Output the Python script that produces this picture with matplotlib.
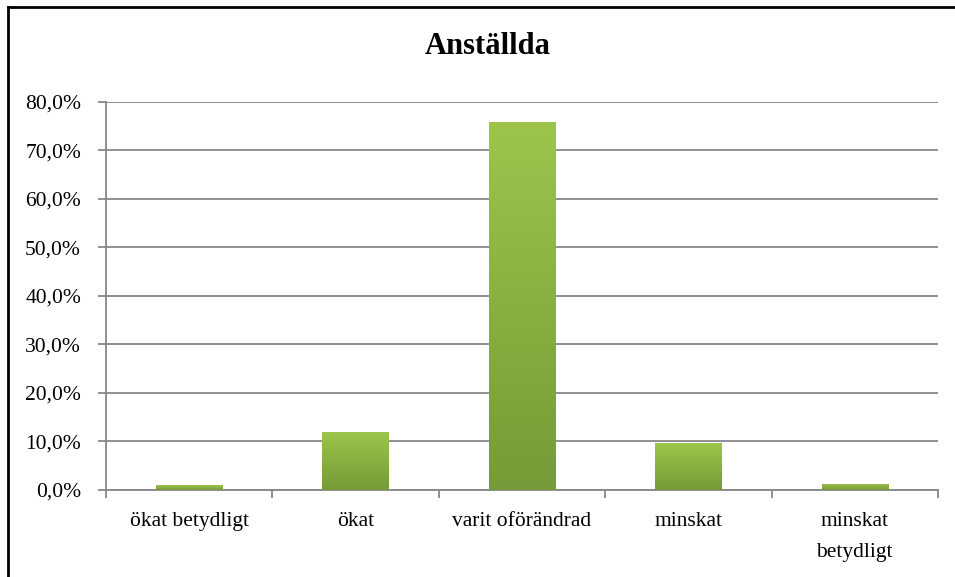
import matplotlib
matplotlib.use("Agg")
import matplotlib.pyplot as plt
import numpy as np
from matplotlib.colors import LinearSegmentedColormap
from matplotlib.ticker import FuncFormatter, MultipleLocator

categories = ["ökat betydligt", "ökat", "varit oförändrad", "minskat", "minskat\nbetydligt"]
values = [1.0, 12.0, 75.7, 9.6, 1.3]
title = "Anställda"

plt.rcParams['font.family'] = ['Liberation Serif', 'DejaVu Serif']

fig = plt.figure(figsize=(9.55, 5.77), dpi=100)
ax = fig.add_axes([106/955, 87/577, (938-106)/955, (490-101.5)/577])

x = np.arange(len(categories))
bars = ax.bar(x, values, width=0.4, color='none', edgecolor='none', zorder=3)

cmap = LinearSegmentedColormap.from_list("g", ["#769A37", "#9DC54B"])
grad = np.linspace(0, 1, 256).reshape(-1, 1)
for b in bars:
    x0, y0 = b.get_x(), b.get_y()
    w, h = b.get_width(), b.get_height()
    im = ax.imshow(grad, cmap=cmap, origin='lower', aspect='auto',
                   extent=[x0, x0 + w, y0, y0 + h], zorder=3)
    im.set_clip_path(b)

ax.set_xlim(-0.5, len(categories) - 0.5)
ax.set_ylim(0, 80)
ax.yaxis.set_major_locator(MultipleLocator(10))
ax.yaxis.set_major_formatter(FuncFormatter(lambda v, p: f"{v:.1f}%".replace('.', ',')))
ax.grid(axis='y', color='#878787', linewidth=1.3, zorder=0)
ax.set_axisbelow(True)

ax.set_xticks(x)
ax.set_xticklabels(categories, fontsize=15.5, linespacing=1.85)
ax.set_xticks(np.arange(len(categories) + 1) - 0.5, minor=True)
ax.tick_params(axis='x', which='major', length=0, pad=16)
ax.tick_params(axis='x', which='minor', length=6, width=1.3, color='#878787', direction='out')
ax.tick_params(axis='y', length=6, width=1.3, color='#878787', labelsize=15.5, pad=12)

for s in ['top', 'right']:
    ax.spines[s].set_visible(False)
for s in ['left', 'bottom']:
    ax.spines[s].set_color('#878787')
    ax.spines[s].set_linewidth(1.3)

fig.text(488/955, 1 - 47/577, title, ha='center', va='center', fontsize=22, fontweight='bold')

# frame lines (left and top)
fig.add_artist(plt.Line2D([8/955, 8/955], [0, 1 - 7/577], color='black', lw=2, transform=fig.transFigure))
fig.add_artist(plt.Line2D([8/955, 1], [1 - 7/577, 1 - 7/577], color='black', lw=2, transform=fig.transFigure))

fig.savefig("out.png", dpi=100)
